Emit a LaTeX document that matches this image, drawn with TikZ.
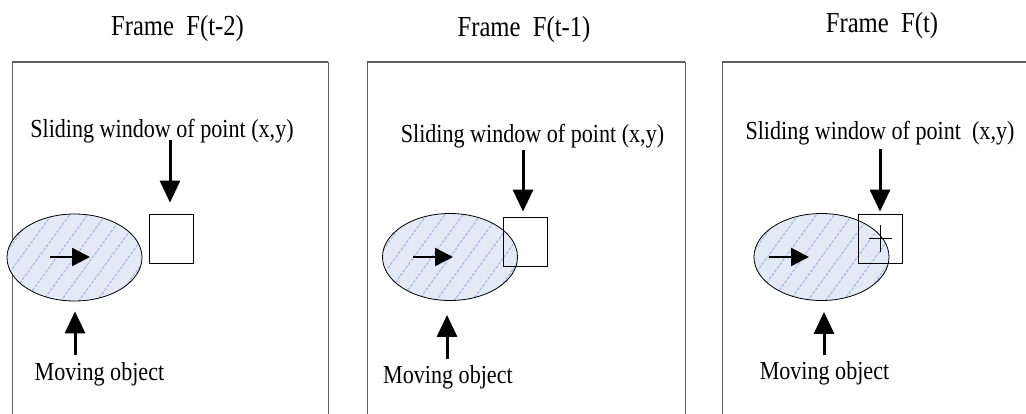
\documentclass[tikz,border=0pt]{standalone}
\usepackage{fontspec}
\setmainfont{Liberation Serif}[FakeStretch=0.85]
\usetikzlibrary{arrows.meta,shapes.geometric}
\definecolor{hatchfill}{RGB}{227,234,246}
\definecolor{hatchline}{RGB}{165,188,226}
\definecolor{framegray}{RGB}{95,95,95}
\begin{document}
\begin{tikzpicture}[x=1pt,y=-1pt,
  frameline/.style={draw=framegray,line width=1pt},
  frametop/.style={draw=framegray,line width=1.8pt},
  title/.style={font=\fontsize{29}{32}\selectfont,anchor=base,inner sep=0pt},
  lbl/.style={font=\fontsize{26}{30}\selectfont,anchor=base,inner sep=0pt},
  obj/.style={ellipse,draw=black,line width=0.8pt,fill=hatchfill,minimum width=135pt,minimum height=87pt,inner sep=0pt,
    path picture={\foreach \i in {-162,-144,...,162}{\draw[hatchline,line width=1.2pt,dash pattern=on 3pt off 1.5pt,shift={(path picture bounding box.center)}] (\i-40,55) -- (\i+40,-55);}}},
  win/.style={rectangle,draw=black,line width=0.8pt,minimum width=44pt,minimum height=49pt,inner sep=0pt},
  bigarrow/.style={line width=3pt,-{Triangle[length=22pt,width=20pt]}},
  movearrow/.style={line width=2.5pt,-{Triangle[length=18pt,width=18pt]}},
]
\clip (0,0) rectangle (1026,413);
% frames
\draw[frameline] (12,430) -- (12,62) -- (328,62) -- (328,430);
\draw[frametop] (12,62) -- (328,62);
\draw[frameline] (367,430) -- (367,62) -- (685,62) -- (685,430);
\draw[frametop] (367,62) -- (685,62);
\draw[frameline] (722,430) -- (722,62) -- (1040,62) -- (1040,430);
\draw[frametop] (722,62) -- (1040,62);
% titles
\node[title] (t1) at (177.5,35) {Frame\ \ F(t-2)};
\node[title] (t2) at (524,36) {Frame\ \ F(t-1)};
\node[title] (t3) at (882,32) {Frame\ \ F(t)};
% labels
\node[lbl] (s1) at (162,137) {Sliding window of point (x,y)};
\node[lbl] (s2) at (532.5,142) {Sliding window of point (x,y)};
\node[lbl] (s3) at (880,139) {Sliding window of point\ \ (x,y)};
\node[lbl] (m1) at (99.5,380) {Moving object};
\node[lbl] (m2) at (448,383) {Moving object};
\node[lbl] (m3) at (824.5,379) {Moving object};
% moving objects
\node[obj] (o1) at (74.5,257.5) {};
\node[obj] (o2) at (450,257) {};
\node[obj] (o3) at (821.5,257) {};
% sliding windows
\node[win] (w1) at (171,238.5) {};
\node[win] (w2) at (525,241.5) {};
\node[win] (w3) at (880.5,238.5) {};
\draw[line width=0.8pt] ([xshift=-11.5pt]w3.center) -- ([xshift=11.5pt]w3.center);
\draw[line width=0.8pt] ([yshift=13.5pt]w3.center) -- ([yshift=-13.5pt]w3.center);
% arrows to windows
\coordinate (d1) at (170,140);
\coordinate (d2) at (523,150);
\coordinate (d3) at (880,149);
\draw[bigarrow,shorten >=11pt] (d1) -- (d1 |- w1.north);
\draw[bigarrow,shorten >=5pt] (d2) -- (d2 |- w2.north);
\draw[bigarrow,shorten >=2pt] (d3) -- (d3 |- w3.north);
% arrows to objects
\coordinate (u1) at (75,355);
\coordinate (u2) at (447,359);
\coordinate (u3) at (824,355);
\draw[bigarrow,shorten >=10pt] (u1) -- (u1 |- o1.south);
\draw[bigarrow,shorten >=14pt] (u2) -- (u2 |- o2.south);
\draw[bigarrow,shorten >=11pt] (u3) -- (u3 |- o3.south);
% motion arrows
\coordinate (a1s) at (50,257); \coordinate (a1e) at (90,257);
\coordinate (a2s) at (413,257); \coordinate (a2e) at (453,257);
\coordinate (a3s) at (769,257); \coordinate (a3e) at (809,257);
\draw[movearrow] (a1s) -- (a1e);
\draw[movearrow] (a2s) -- (a2e);
\draw[movearrow] (a3s) -- (a3e);
\end{tikzpicture}
\end{document}
